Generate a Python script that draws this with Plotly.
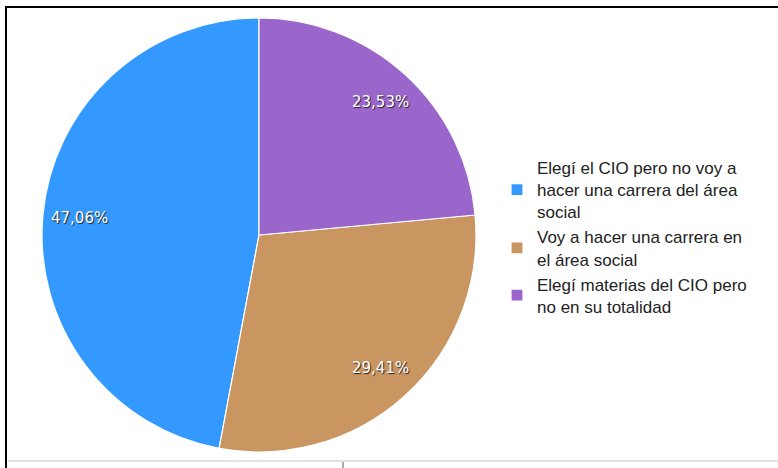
import numpy as np
import plotly.graph_objects as go

labels = [
    "Elegí el CIO pero no voy a<br>hacer una carrera del área<br>social",
    "Voy a hacer una carrera en<br>el área social",
    "Elegí materias del CIO pero<br>no en su totalidad",
]
values = [47.06, 29.41, 23.53]
value_text = ["47,06%", "29,41%", "23,53%"]
colors = ["#3399ff", "#c99560", "#9b66cc"]

W, H = 778, 468
cx_px, cy_px, R = 259, 235, 217
dom_x = [(cx_px - R) / W, (cx_px + R) / W]
dom_y = [(H - cy_px - R) / H, (H - cy_px + R) / H]

frac = np.array(values) / np.sum(values)

# slices run counter-clockwise from 12 o'clock, first slice ending at the top
fig = go.Figure(go.Pie(
    labels=labels, values=values, sort=False, direction="counterclockwise",
    rotation=float(360 * (1 - frac[0])),
    marker=dict(colors=colors, line=dict(color="white", width=1.2)),
    textinfo="none", hoverinfo="label+percent",
    domain=dict(x=dom_x, y=dom_y),
))

# label positions along slice bisectors
ends = np.cumsum(frac) * 2 * np.pi
mids = ends - frac * np.pi
cxp, cyp = np.mean(dom_x), np.mean(dom_y)
rl = 0.83 * R
for t, m in zip(value_text, mids):
    fig.add_annotation(
        x=cxp - rl * np.sin(m) / W, y=cyp + rl * np.cos(m) / H,
        xref="paper", yref="paper", xanchor="center", yanchor="middle",
        text=t, showarrow=False,
        font=dict(family="DejaVu Sans", size=15, color="white",
                  shadow="1px 1px 1px #222"),
    )

# frame
fig.add_shape(type="rect", xref="paper", yref="paper",
              x0=6 / W, x1=1.01, y0=-0.01, y1=1 - 7 / H,
              line=dict(color="black", width=2))
fig.add_shape(type="line", xref="paper", yref="paper",
              x0=8 / W, x1=1, y0=1 - 461 / H, y1=1 - 461 / H,
              line=dict(color="#e2e2e2", width=2))
fig.add_shape(type="line", xref="paper", yref="paper",
              x0=343 / W, x1=343 / W, y0=0, y1=1 - 462 / H,
              line=dict(color="#555", width=1))

fig.update_layout(
    width=W, height=H, margin=dict(l=0, r=0, t=0, b=0),
    paper_bgcolor="white", plot_bgcolor="white",
    showlegend=True,
    legend=dict(x=497 / W, y=1 - 150 / H, xanchor="left", yanchor="top",
                font=dict(family="Liberation Sans, Arial", size=17, color="#222"),
                bgcolor="rgba(0,0,0,0)"),
)

fig.write_html("out.html")
